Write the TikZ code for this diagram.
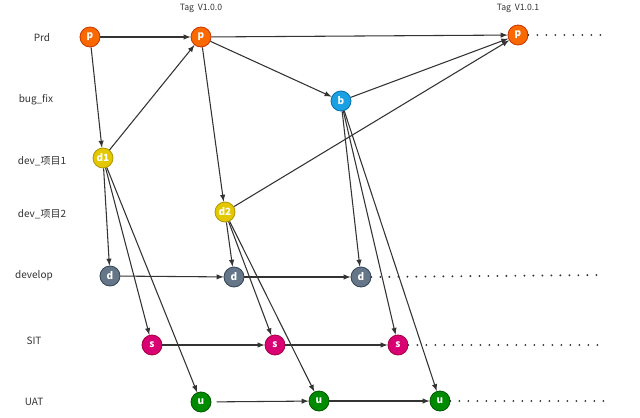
\documentclass[tikz,border=0pt]{standalone}
\usepackage{fontspec}
\setmainfont{Noto Sans CJK SC}
\usepackage{tikz}
\usetikzlibrary{arrows}
\definecolor{prdfill}{HTML}{FA6800}\definecolor{prddraw}{HTML}{C73500}
\definecolor{bugfill}{HTML}{1BA1E2}\definecolor{bugdraw}{HTML}{006EAF}
\definecolor{devfill}{HTML}{E3C800}\definecolor{devdraw}{HTML}{B09500}
\definecolor{dlpfill}{HTML}{647687}\definecolor{dlpdraw}{HTML}{314354}
\definecolor{sitfill}{HTML}{D80073}\definecolor{sitdraw}{HTML}{A50040}
\definecolor{uatfill}{HTML}{008A00}\definecolor{uatdraw}{HTML}{005700}
\definecolor{ink}{HTML}{333333}
\begin{document}
\begin{tikzpicture}[x=0.75pt,y=-0.75pt,
    knot/.style={circle,minimum size=15pt,inner sep=0pt,line width=0.6pt,text=white,font=\bfseries\fontsize{7.5}{7.5}\selectfont},
    prd/.style={knot,fill=prdfill,draw=prddraw},
    bug/.style={knot,fill=bugfill,draw=bugdraw},
    dev/.style={knot,fill=devfill,draw=devdraw},
    dlp/.style={knot,fill=dlpfill,draw=dlpdraw},
    sit/.style={knot,fill=sitfill,draw=sitdraw},
    uat/.style={knot,fill=uatfill,draw=uatdraw},
    lane/.style={text=ink,font=\fontsize{7.5}{9}\selectfont},
    tag/.style={text=ink,font=\fontsize{6.5}{8}\selectfont},
    flow/.style={-latex,ink,line width=0.8pt},
    later/.style={ink,line width=1.6pt,line cap=round,dash pattern=on 0pt off 6.75pt}]
\useasboundingbox (0,0) rectangle (640,418);
% lanes
\node[lane](lprd)at(42,38){Prd};
\node[lane](lbug)at(36,100){bug\_fix};
\node[lane](ldev1)at(42,161){dev\_项目1};
\node[lane](ldev2)at(42,214){dev\_项目2};
\node[lane](ldlp)at(34,276){develop};
\node[lane](lsit)at(34,341){SIT};
\node[lane](luat)at(34,402){UAT};
% commits
\node[prd](p1)at(90,37){p};
\node[prd](p2)at(201,37){p};
\node[prd](p3)at(518,35){p};
\node[tag](t1)at(201,8){Tag\ \ V1.0.0};
\node[tag](t2)at(518,8){Tag\ \ V1.0.1};
\node[bug](b)at(341,101){b};
\node[dev](d1)at(103,158){d1};
\node[dev](d2)at(225,212){d2};
\node[dlp](g1)at(110,276){d};
\node[dlp](g2)at(234,277){d};
\node[dlp](g3)at(361,277){d};
\node[sit](s1)at(152,345){s};
\node[sit](s2)at(275,345){s};
\node[sit](s3)at(398,345){s};
\node[uat](u1)at(201,402){u};
\node[uat](u2)at(319,401){u};
\node[uat](u3)at(440,401){u};
\coordinate(ep)at(605,35);
\coordinate(eg)at(605,275);
\coordinate(es)at(603,345);
\coordinate(eu)at(605,401);
% merges
\draw[flow](p1)--(p2);
\draw[flow](p1)--(d1);
\draw[flow](d1)--(p2);
\draw[flow](p2)--(p3);
\draw[flow](p2)--(b);
\draw[flow](p2)--(d2);
\draw[flow](b)--(p3);
\draw[flow](d2)--(p3);
\draw[flow](d1)--(g1);
\draw[flow](d1)--(s1);
\draw[flow](d1)--(u1);
\draw[flow](d2)--(g2);
\draw[flow](d2)--(s2);
\draw[flow](d2)--(u2);
\draw[flow](b)--(g3);
\draw[flow](b)--(s3);
\draw[flow](b)--(u3);
\draw[flow](g1)--(g2);
\draw[flow](g2)--(g3);
\draw[flow](s1)--(s2);
\draw[flow](s2)--(s3);
\draw[flow,shorten <=4pt](u1)--(u2);
\draw[flow](u2)--(u3);
% later commits
\draw[later](p3.east)--(ep);
\draw[later](g3.east)--(eg);
\draw[later](s3.east)--(es);
\draw[later](u3.east)--(eu);
\end{tikzpicture}
\end{document}
